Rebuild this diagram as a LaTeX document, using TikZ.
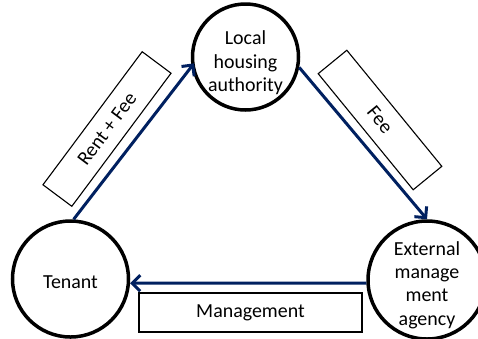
\documentclass[tikz,border=0pt]{standalone}
\usepackage{fontspec}
\setmainfont{Carlito}
\usetikzlibrary{arrows.meta}
\definecolor{navy}{RGB}{0,32,96}
\begin{document}
\begin{tikzpicture}[x=1bp,y=-1bp,
 circ/.style={circle,draw=black,line width=3.5bp,minimum size=#1,inner sep=0pt},
 lbl/.style={font=\fontsize{20}{23.5}\selectfont,align=center,inner sep=0pt},
 tag/.style={draw=black,line width=1.1bp,font=\fontsize{20}{23.5}\selectfont,inner sep=0pt},
 flow/.style={draw=navy,line width=3bp,-{Straight Barb[length=8bp,width=16bp]}}]
\useasboundingbox (0,0) rectangle (478,338);
% circles
\node[circ=106bp] (lha) at (245.5,57) {};
\node[circ=116bp] (tenant) at (70.5,279) {};
\node[circ=118bp] (ext) at (427,280) {};
% circle texts
\node[lbl] (lhatext) at (245.5,63) {Local\\housing\\authority};
\node[lbl] (tenanttext) at (70.5,282) {Tenant};
\node[lbl] (exttext) at (427,285) {External\\manage\\ment\\agency};
% label boxes
\node[tag,rotate=53.3,minimum width=166bp,minimum height=36bp] (rentbox) at (107,129) {Rent + Fee};
\node[tag,rotate=-50.7,minimum width=150bp,minimum height=37bp] (feebox) at (380,120) {Fee};
\node[tag,minimum width=223bp,minimum height=39bp] (mgmtbox) at (250.5,312.5) {Management};
% flows
\draw[flow,shorten >=-4bp] (tenant.87) -- (lha.190);
\draw[flow] (lha.-11) -- (ext.90);
\draw[flow] (ext.183) -- (tenant.-4);
\end{tikzpicture}
\end{document}
